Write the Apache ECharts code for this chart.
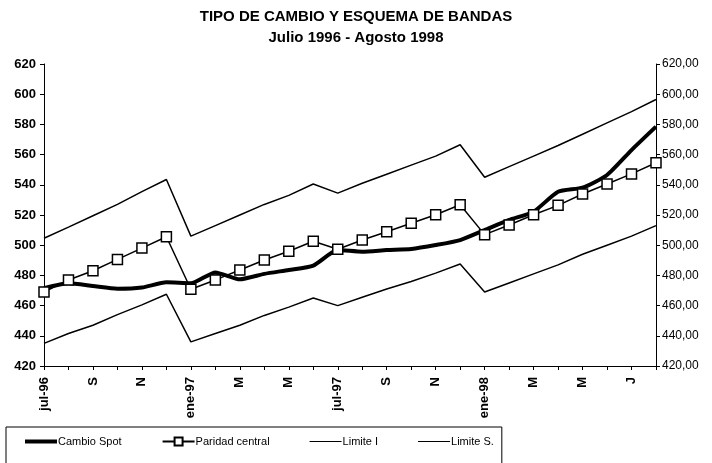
<!DOCTYPE html>
<html>
<head>
<meta charset="utf-8">
<script src="https://cdn.jsdelivr.net/npm/echarts@6/dist/echarts.min.js"></script>
<style>
  html, body { margin: 0; padding: 0; background: #fff; }
  #main { width: 712px; height: 463px; }
</style>
</head>
<body>
<div id="main"></div>
<script>
// meses jul-96 .. ago-98
var months = ['jul-96','ago-96','sep-96','oct-96','nov-96','dic-96','ene-97','feb-97','mar-97','abr-97','may-97','jun-97',
  'jul-97','ago-97','sep-97','oct-97','nov-97','dic-97','ene-98','feb-98','mar-98','abr-98','may-98','jun-98','jul-98','ago-98'];
// etiquetas que se ven en el eje X
var tickLabels = ['jul-96','','S','','N','','ene-97','','M','','M','',
  'jul-97','','S','','N','','ene-98','','M','','M','','J',''];

var cambioSpot = [471.5, 474.8, 473, 471.2, 472, 475.4, 474.8, 482, 477.4, 481, 483.6, 486.5,
  496.8, 495.7, 496.8, 497.5, 500.1, 503.4, 510, 516.7, 522.2, 535.4, 538.1, 546.5, 563, 578.5];
var paridadCentral = [469, 477, 483.1, 490.6, 498.1, 505.6, 470.8, 477, 483.6, 490.2, 496, 502.6,
  497.3, 503.4, 508.9, 514.5, 520.2, 526.8, 507, 513.4, 520.2, 526.4, 533.9, 540.5, 547.2, 554.6];
var limiteI = [435, 441.5, 447, 454, 460.5, 467.5, 436, 441.5, 447, 453.5, 459, 465,
  460, 465.5, 471, 476, 481.5, 487.5, 469, 475, 481, 487, 494, 500, 506, 513];
var limiteS = [504.6, 512, 519.5, 527, 535.5, 543.5, 506, 513, 520, 527, 533, 540.5,
  534.5, 541, 547, 553, 559, 566.5, 545, 552, 559, 566, 573.5, 581, 588.5, 596.5];

var fontTxt = 'Liberation Sans, Arial, sans-serif';
var myChart = echarts.init(document.getElementById('main'));
var option = {
  backgroundColor: '#fff',
  animation: false,
  title: {
    text: 'TIPO DE CAMBIO Y ESQUEMA DE BANDAS',
    subtext: 'Julio 1996 - Agosto 1998',
    left: 'center',
    top: 4,
    itemGap: 6,
    textStyle: { fontFamily: fontTxt, fontSize: 15, fontWeight: 'bold', color: '#000' },
    subtextStyle: { fontFamily: fontTxt, fontSize: 15, fontWeight: 'bold', color: '#000' }
  },
  legend: {
    left: 6,
    top: 427,
    padding: [9, 8, 30, 19],
    itemGap: 40,
    itemWidth: 32,
    itemHeight: 10,
    borderColor: '#000',
    borderWidth: 1,
    textStyle: { fontFamily: fontTxt, fontSize: 11, color: '#000', padding: [0, 0, 0, -4] },
    data: [
      { name: 'Cambio Spot', icon: 'path://M0 0H32V4H0Z' },
      { name: 'Paridad central' },
      { name: 'Limite I', icon: 'path://M0 0H32V1.2H0Z' },
      { name: 'Limite S.', icon: 'path://M0 0H32V1.2H0Z' }
    ]
  },
  grid: { left: 44, right: 56, top: 64, bottom: 97 },
  xAxis: {
    type: 'category',
    data: months,
    boundaryGap: false,
    axisLine: { lineStyle: { color: '#000', width: 1 } },
    axisTick: { interval: 0, length: 4, lineStyle: { color: '#000' } },
    axisLabel: {
      interval: 0,
      rotate: 90,
      color: '#000',
      fontFamily: fontTxt,
      fontSize: 13,
      fontWeight: 'bold',
      margin: 11,
      formatter: function (v, i) { return tickLabels[i]; }
    }
  },
  yAxis: [{
    type: 'value', min: 420, max: 620, interval: 20,
    splitLine: { show: false },
    axisLine: { show: true, lineStyle: { color: '#000' } },
    axisTick: { show: true, length: 4, lineStyle: { color: '#000' } },
    axisLabel: { color: '#000', fontFamily: fontTxt, fontSize: 13, fontWeight: 'bold', margin: 8 }
  }, {
    type: 'value', min: 420, max: 620, interval: 20, position: 'right',
    splitLine: { show: false },
    axisLine: { show: true, lineStyle: { color: '#000' } },
    axisTick: { show: true, length: 4, lineStyle: { color: '#000' } },
    axisLabel: {
      color: '#000', fontFamily: fontTxt, fontSize: 12, margin: 6,
      formatter: function (v) { return v.toFixed(2).replace('.', ','); }
    }
  }],
  series: [{
    name: 'Cambio Spot', type: 'line', data: cambioSpot,
    symbol: 'none', smooth: 0.2, color: '#000',
    lineStyle: { color: '#000', width: 4 }
  }, {
    name: 'Paridad central', type: 'line', data: paridadCentral,
    symbol: 'rect', symbolSize: 10, showAllSymbol: true, color: '#000',
    itemStyle: { color: '#fff', borderColor: '#000', borderWidth: 1.5 },
    lineStyle: { color: '#000', width: 1.5 }
  }, {
    name: 'Limite I', type: 'line', data: limiteI,
    symbol: 'none', color: '#000',
    lineStyle: { color: '#000', width: 1.5 }
  }, {
    name: 'Limite S.', type: 'line', data: limiteS,
    symbol: 'none', color: '#000',
    lineStyle: { color: '#000', width: 1.5 }
  }]
};
myChart.setOption(option);
</script>
</body>
</html>
